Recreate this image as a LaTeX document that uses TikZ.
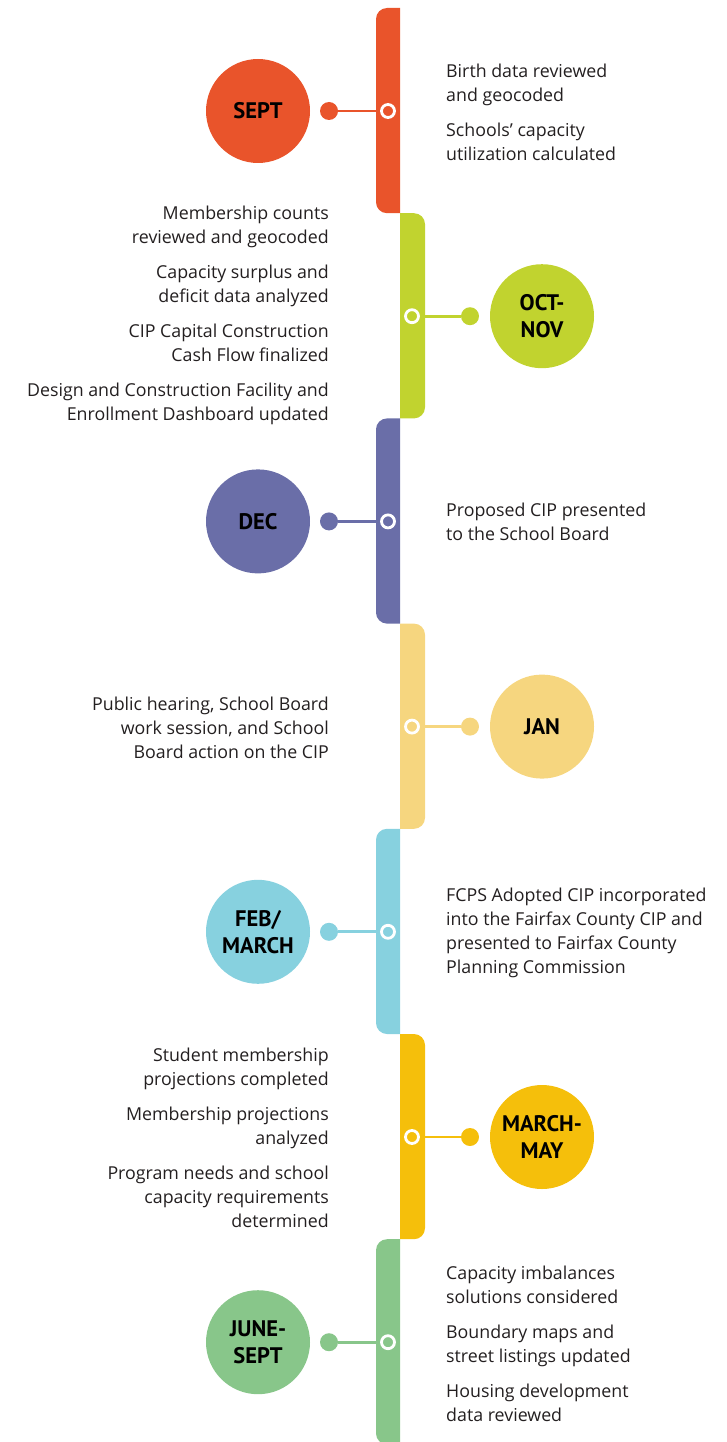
\documentclass[tikz,border=0pt]{standalone}
\usepackage{fontspec}
\setmainfont{Open Sans}
\newfontfamily\labelfont{PT Sans}
\usetikzlibrary{positioning}

\definecolor{sept}{HTML}{E9542B}
\definecolor{octnov}{HTML}{C1D32F}
\definecolor{dec}{HTML}{6A6EA8}
\definecolor{jan}{HTML}{F6D67F}
\definecolor{febmar}{HTML}{87D1DF}
\definecolor{marmay}{HTML}{F5BF0B}
\definecolor{junsep}{HTML}{88C68A}
\definecolor{ink}{HTML}{231F20}

\tikzset{
  month/.style={circle, fill=#1, minimum size=104pt, inner sep=0pt, align=center,
    font=\labelfont\fontsize{22.5}{27}\selectfont\bfseries, text=black},
  dot/.style={circle, fill=#1, minimum size=18pt, inner sep=0pt},
  ring/.style={circle, draw=white, line width=2.8pt, fill=#1, minimum size=13pt, inner sep=0pt},
  link/.style={line width=2.8pt, #1},
  note/.style={inner sep=0pt, text=ink, font=\fontsize{17.8}{24}\selectfont},
}

\begin{document}
\begin{tikzpicture}[x=1pt, y=-1pt]
    \useasboundingbox (0,0) rectangle (726,1442);

    % Draw bars, rings, dots and month circles
    \foreach \i/\col/\side/\lbl in {0/sept/0/SEPT, 1/octnov/1/{OCT-\\NOV}, 2/dec/0/DEC,
        3/jan/1/JAN, 4/febmar/0/{FEB/\\MARCH}, 5/marmay/1/{MARCH-\\MAY}, 6/junsep/0/{JUNE-\\SEPT}} {
      \pgfmathsetmacro\yc{111+205.2*\i}
      \pgfmathsetmacro\ytop{\yc-103}
      \pgfmathsetmacro\ybot{\yc+102.2}
      \ifnum\side=0
        % bar on the left, rounded on its outer side
        \begin{scope}
          \clip (376,\ytop) rectangle (400,\ybot);
          \fill[\col, rounded corners=11pt] (376,\ytop) rectangle (420,\ybot);
        \end{scope}
        \node[ring=\col] (ring\i) at (388,\yc) {};
        \node[dot=\col] (dot\i) at (329,\yc) {};
        \node[month=\col] (month\i) at (258,\yc) {\lbl};
      \else
        % bar on the right
        \begin{scope}
          \clip (400,\ytop) rectangle (425,\ybot);
          \fill[\col, rounded corners=11pt] (380,\ytop) rectangle (425,\ybot);
        \end{scope}
        \node[ring=\col] (ring\i) at (412,\yc) {};
        \node[dot=\col] (dot\i) at (470,\yc) {};
        \node[month=\col] (month\i) at (542,\yc) {\lbl};
      \fi
      \draw[link=\col] (dot\i) -- (ring\i);
    }

    % Notes beside each month
    \node[note, anchor=west, align=left] (note0) at (446,112)
      {Birth data reviewed\\and geocoded\\[11pt]Schools’ capacity\\utilization calculated};
    \node[note, anchor=east, align=right] (note1) at (329,315)
      {Membership counts\\reviewed and geocoded\\[11pt]Capacity surplus and\\deficit data analyzed\\[11pt]
       CIP Capital Construction\\Cash Flow finalized\\[11pt]Design and Construction Facility and\\Enrollment Dashboard updated};
    \node[note, anchor=west, align=left] (note2) at (446,522)
      {Proposed CIP presented\\to the School Board};
    \node[note, anchor=east, align=right] (note3) at (329,728)
      {Public hearing, School Board\\work session, and School\\Board action on the CIP};
    \node[note, anchor=west, align=left] (note4) at (446,933)
      {FCPS Adopted CIP incorporated\\into the Fairfax County CIP and\\presented to Fairfax County\\Planning Commission};
    \node[note, anchor=east, align=right] (note5) at (329,1138)
      {Student membership\\projections completed\\[11pt]Membership projections\\analyzed\\[11pt]
       Program needs and school\\capacity requirements\\determined};
    \node[note, anchor=west, align=left] (note6) at (446,1344)
      {Capacity imbalances\\solutions considered\\[11pt]Boundary maps and\\street listings updated\\[11pt]
       Housing development\\data reviewed};

\end{tikzpicture}
\end{document}
